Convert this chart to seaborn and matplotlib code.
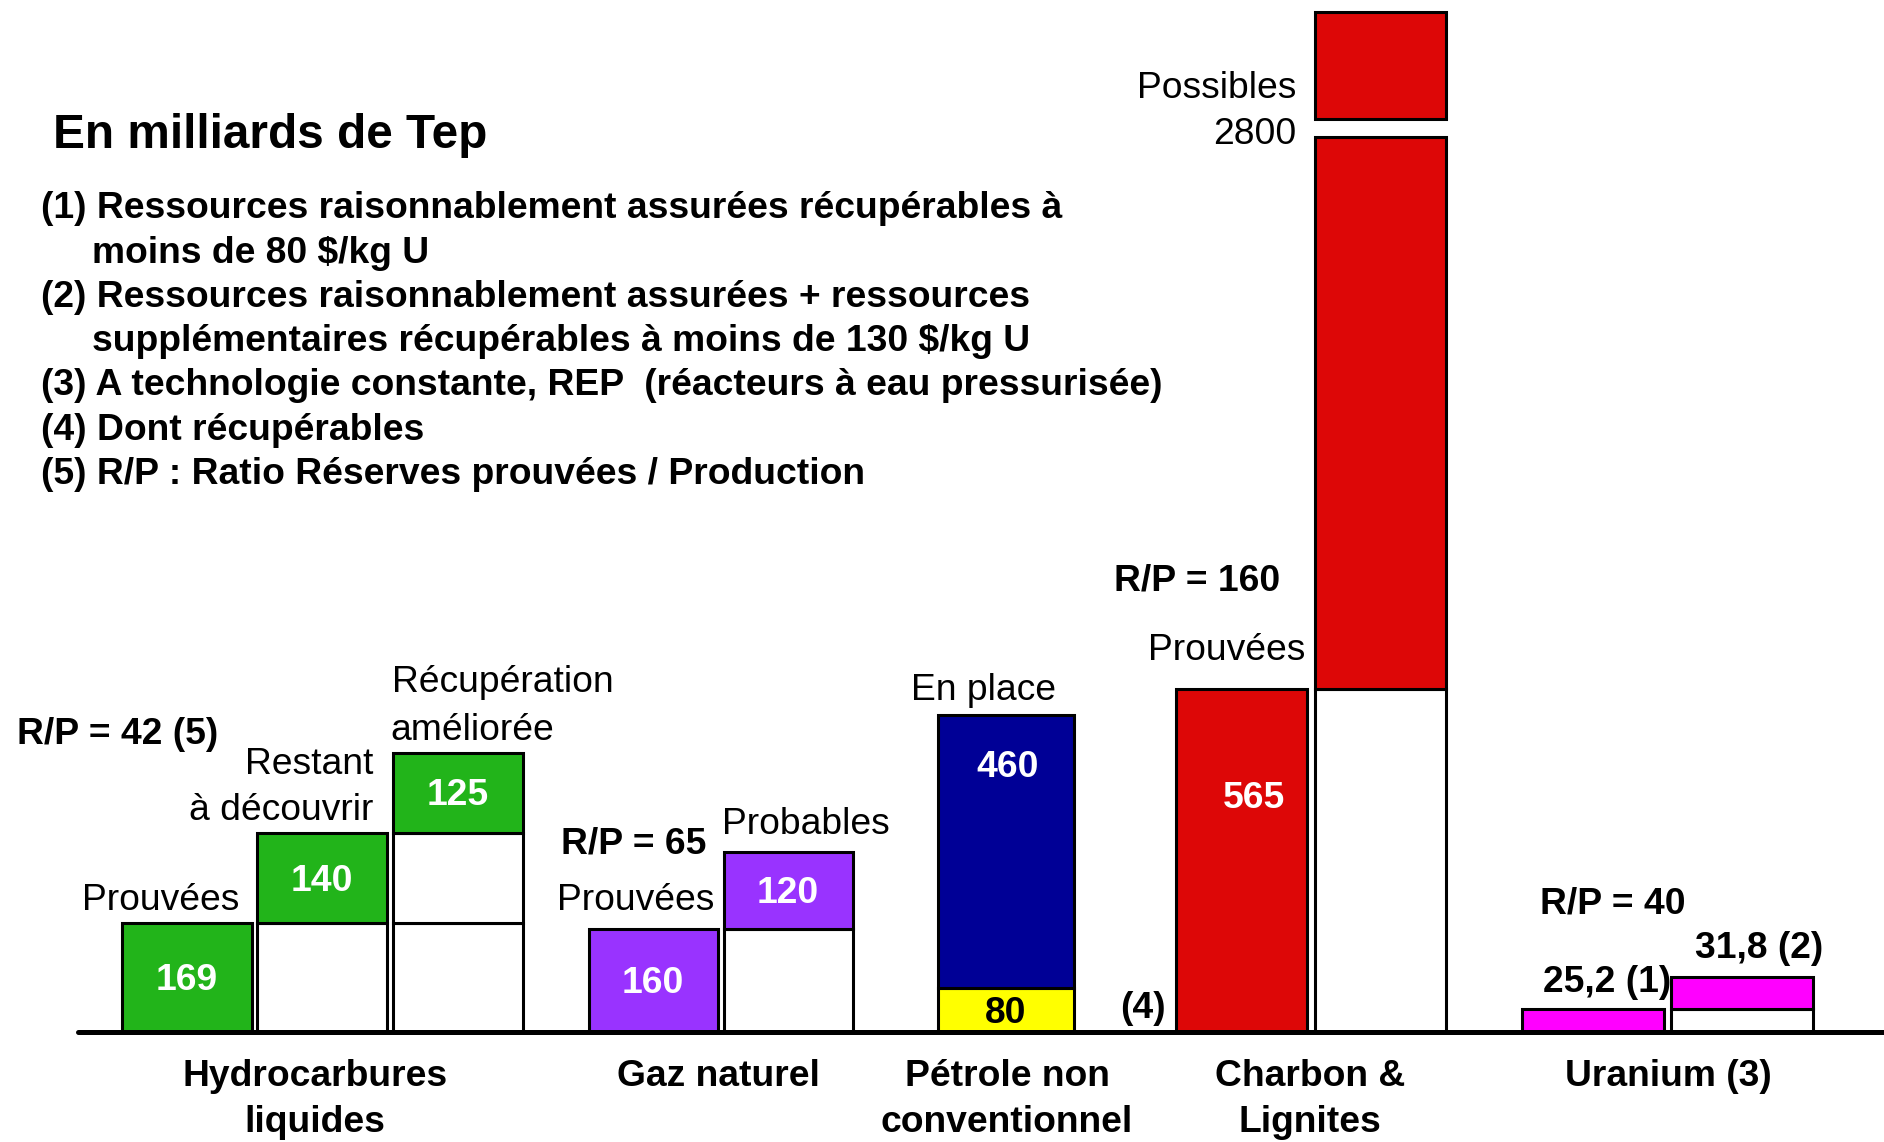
import matplotlib
matplotlib.use("Agg")
import matplotlib.pyplot as plt
import seaborn as sns

# Réserves en milliards de Tep (hauteurs, segments du bas vers le haut)
categories = ["Hydrocarbures\nliquides", "Gaz naturel", "Pétrole non\nconventionnel",
              "Charbon &\nLignites", "Uranium (3)"]

hydrocarbures = [[169], [169, 140], [169, 140, 125]]
gaz_naturel = [[160], [160, 120]]
petrole_nc = [[68, 424]]
charbon = [[533], [533, 857, 28, 166]]   # 28 = coupure de la barre "Possibles"
uranium = [[36], [36, 49]]

# couleur de chaque segment (None = coupure non dessinée)
couleurs_hydro = [["vert"], ["blanc", "vert"], ["blanc", "blanc", "vert"]]
couleurs_gaz = [["violet"], ["blanc", "violet"]]
couleurs_petrole = [["jaune", "marine"]]
couleurs_charbon = [["rouge"], ["blanc", "rouge", None, "rouge"]]
couleurs_uranium = [["magenta"], ["blanc", "magenta"]]

segments = [hydrocarbures, gaz_naturel, petrole_nc, charbon, uranium]
couleurs_segments = [couleurs_hydro, couleurs_gaz, couleurs_petrole, couleurs_charbon, couleurs_uranium]

# étiquettes dans les barres : (groupe, barre, segment, texte, couleur, position relative)
valeurs = [(0, 0, 0, "169", "white", 0.5), (0, 1, 1, "140", "white", 0.5),
           (0, 2, 2, "125", "white", 0.5), (1, 0, 0, "160", "white", 0.5),
           (1, 1, 1, "120", "white", 0.5), (2, 0, 1, "460", "white", 0.82),
           (2, 0, 0, "80", "black", 0.5), (3, 0, 0, "565", "white", 0.69)]

palette = {"vert": "#22B41A", "blanc": "white", "violet": "#9933FF", "jaune": "#FFFF00",
           "marine": "#000096", "rouge": "#DD0707", "magenta": "#FF00FF"}

# mise en page (pixels)
W, H = 1884, 1142
BASE = 1032          # ligne de base
ECHELLE = 0.644      # pixels par milliard de Tep
DY = 3               # petit décalage vertical des textes
premier_centre = [186.5, 653, 1006, 1241.5, 1593]
pas_barres = [135.5, 135, 0, 138.5, 148.5]
largeurs = [130, 129, 136, 131, 142]
decalage_noms = [-7, -2, 1, -1, 1]
decalage_valeurs = {"565": 12, "460": 2}

sns.set_theme(style="white")
plt.rcParams["font.family"] = ["Liberation Sans", "DejaVu Sans"]
plt.rcParams["text.color"] = "black"
TAILLE = 26.8

fig = plt.figure(figsize=(W / 100, H / 100), dpi=100)
ax = fig.add_axes([0, 0, 1, 1])

for g in range(len(segments)):
    for b, (hauteurs, couleurs) in enumerate(zip(segments[g], couleurs_segments[g])):
        x = premier_centre[g] + b * pas_barres[g]
        bas = 0
        for h, c in zip(hauteurs, couleurs):
            if c is not None:
                sns.barplot(x=[x], y=[h], bottom=bas, orient="x", native_scale=True,
                            width=largeurs[g], color=palette[c], saturation=1,
                            errorbar=None, edgecolor="black", linewidth=2.2, ax=ax)
            bas += h

for g, b, s, txt, coul, frac in valeurs:
    x = premier_centre[g] + b * pas_barres[g] + decalage_valeurs.get(txt, 0)
    seg = segments[g][b]
    y = sum(seg[:s]) + seg[s] * frac - DY / ECHELLE
    ax.text(x, y, txt, ha="center", va="center", color=coul,
            fontsize=TAILLE, fontweight="bold")

ax.set_xlim(0, W)
ax.set_ylim(-(H - BASE) / ECHELLE, BASE / ECHELLE)
ax.axhline(0, xmin=78 / W, xmax=1, color="black", linewidth=3.6, zorder=5)
ax.set_axis_off()

# noms des catégories sous la ligne de base
for g, nom in enumerate(categories):
    n = len(segments[g])
    xc = premier_centre[g] + (n - 1) * pas_barres[g] / 2 + decalage_noms[g]
    for i, ligne in enumerate(nom.split("\n")):
        ax.text(xc, (BASE - 1076 - 47 * i) / ECHELLE, ligne, ha="center", va="center",
                fontsize=TAILLE, fontweight="bold")


def px(x, y):
    return x / W, 1 - (y + DY) / H


# titre et notes
fig.text(*px(53, 133), "En milliards de Tep", fontsize=34.4, fontweight="bold", va="center")
notes = [(41, "(1) Ressources raisonnablement assurées récupérables à"),
         (92, "moins de 80 $/kg U"),
         (41, "(2) Ressources raisonnablement assurées + ressources"),
         (92, "supplémentaires récupérables à moins de 130 $/kg U"),
         (41, "(3) A technologie constante, REP  (réacteurs à eau pressurisée)"),
         (41, "(4) Dont récupérables"),
         (41, "(5) R/P : Ratio Réserves prouvées / Production")]
for i, (x, txt) in enumerate(notes):
    fig.text(*px(x, 206 + 44.2 * i), txt, fontsize=TAILLE, fontweight="bold", va="center")

# libellés des barres
libelles = [(239, 898, "Prouvées", "right", "normal"),
            (373, 762, "Restant", "right", "normal"),
            (373, 808, "à découvrir", "right", "normal"),
            (392, 680, "Récupération", "left", "normal"),
            (390, 727, "améliorée", "left", "normal"),
            (17, 731, "R/P = 42 (5)", "left", "bold"),
            (561, 841, "R/P = 65", "left", "bold"),
            (714, 897, "Prouvées", "right", "normal"),
            (722, 822, "Probables", "left", "normal"),
            (1056, 687, "En place", "right", "normal"),
            (1120, 1005, "(4)", "left", "bold"),
            (1114, 578, "R/P = 160", "left", "bold"),
            (1305, 648, "Prouvées", "right", "normal"),
            (1296, 85, "Possibles", "right", "normal"),
            (1296, 132, "2800", "right", "normal"),
            (1540, 901, "R/P = 40", "left", "bold"),
            (1543, 980, "25,2 (1)", "left", "bold"),
            (1695, 946, "31,8 (2)", "left", "bold")]
for x, y, txt, ha, fw in libelles:
    fig.text(*px(x, y), txt, ha=ha, va="center", fontsize=TAILLE, fontweight=fw)

fig.savefig("out.png", dpi=100)
